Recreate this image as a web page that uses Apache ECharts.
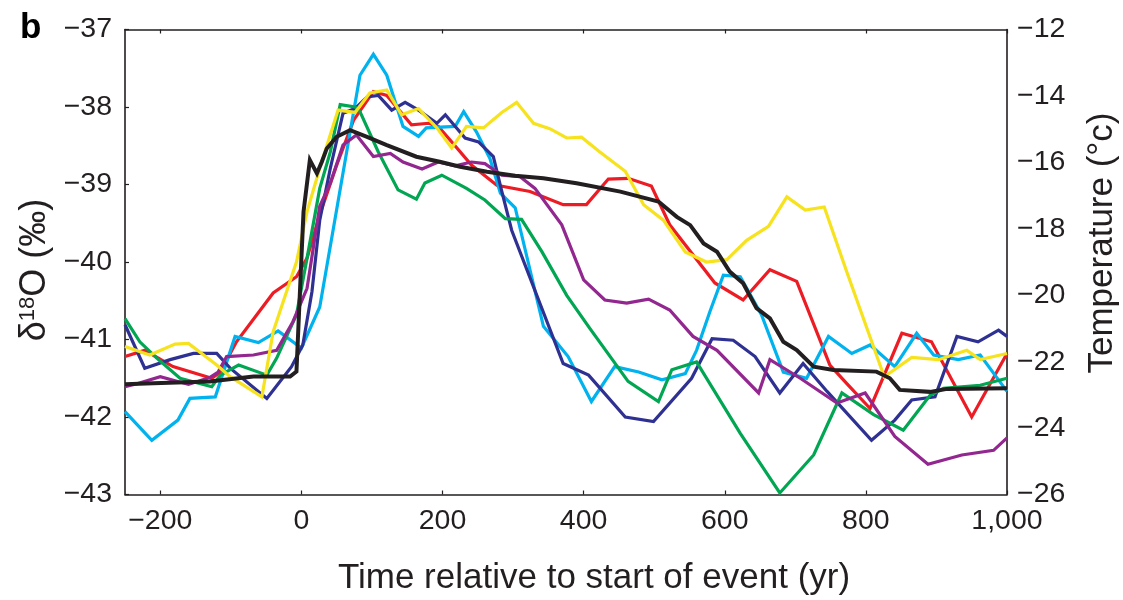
<!DOCTYPE html>
<html>
<head>
<meta charset="utf-8">
<script src="https://cdn.jsdelivr.net/npm/echarts@6/dist/echarts.min.js"></script>
<style>
  html, body { margin: 0; padding: 0; background: #ffffff; }
  #chart { width: 1123px; height: 600px; }
</style>
</head>
<body>
<div id="chart"></div>
<script>
// Tick positions on the time axis (years relative to the start of the event)
const yearTicks = [-200, 0, 200, 400, 600, 800, 1000];

// δ18O records (‰), [year, value]
const cyanRecord = [
  [-250,-41.93],[-212,-42.30],[-175,-42.04],[-158,-41.76],[-122,-41.74],[-94,-40.96],[-61,-41.04],
  [-33,-40.89],[0,-41.11],[26,-40.58],[83,-37.59],[102,-37.32],[121,-37.59],[144,-38.25],[166,-38.38],
  [177,-38.27],[218,-38.25],[230,-38.06],[248,-38.32],[267,-38.66],[282,-39.11],[303,-39.30],[343,-40.83],
  [378,-41.22],[411,-41.80],[444,-41.35],[478,-41.42],[511,-41.52],[544,-41.44],[560,-41.14],[579,-40.64],
  [598,-40.17],[622,-40.19],[652,-40.68],[683,-41.42],[716,-41.50],[747,-40.96],[780,-41.18],[806,-41.07],
  [841,-41.35],[872,-40.92],[896,-41.20],[931,-41.26],[962,-41.20],[1000,-41.67]
];
const blueRecord = [
  [-250,-40.81],[-222,-41.37],[-186,-41.26],[-153,-41.18],[-120,-41.18],[-101,-41.37],[-49,-41.76],
  [-14,-41.35],[2,-41.07],[15,-40.38],[26,-39.46],[41,-38.79],[59,-38.08],[76,-38.02],[93,-37.87],
  [109,-37.85],[128,-38.04],[147,-37.94],[166,-38.04],[192,-38.21],[204,-38.10],[232,-38.40],[251,-38.45],
  [272,-38.64],[284,-39.09],[298,-39.59],[371,-41.31],[407,-41.46],[459,-42.00],[499,-42.06],[553,-41.50],
  [582,-40.99],[612,-41.01],[643,-41.22],[678,-41.69],[711,-41.31],[745,-41.67],[808,-42.30],[841,-42.04],
  [865,-41.78],[898,-41.74],[929,-40.96],[959,-41.03],[988,-40.88],[1000,-40.96]
];
const greenRecord = [
  [-250,-40.73],[-229,-41.03],[-205,-41.24],[-172,-41.50],[-127,-41.61],[-115,-41.46],[-89,-41.33],
  [-49,-41.46],[-35,-41.24],[-7,-40.68],[8,-39.95],[26,-39.05],[41,-38.58],[55,-37.97],[76,-38.00],
  [83,-38.06],[109,-38.58],[137,-39.07],[163,-39.19],[175,-38.98],[199,-38.88],[234,-39.05],[260,-39.20],
  [289,-39.44],[312,-39.45],[341,-39.87],[376,-40.43],[409,-40.86],[463,-41.54],[506,-41.80],[525,-41.39],
  [560,-41.29],[622,-42.21],[678,-42.98],[726,-42.49],[766,-41.69],[811,-41.97],[853,-42.17],[891,-41.72],
  [910,-41.63],[962,-41.59],[1000,-41.50]
];
const redRecord = [
  [-250,-41.22],[-222,-41.14],[-182,-41.35],[-127,-41.50],[-115,-41.42],[-92,-41.03],[-40,-40.40],
  [-7,-40.19],[8,-39.95],[26,-39.39],[50,-38.75],[74,-38.17],[102,-37.80],[121,-37.85],[156,-38.23],
  [180,-38.21],[194,-38.25],[215,-38.47],[241,-38.75],[277,-39.01],[324,-39.09],[371,-39.26],[404,-39.26],
  [435,-38.93],[463,-38.92],[496,-39.02],[522,-39.52],[586,-40.27],[626,-40.49],[664,-40.10],[702,-40.25],
  [749,-41.33],[773,-41.57],[806,-41.89],[851,-40.92],[893,-41.03],[950,-42.00],[1000,-41.18]
];
const yellowRecord = [
  [-250,-41.09],[-215,-41.20],[-179,-41.06],[-160,-41.05],[-120,-41.33],[-101,-41.48],[-56,-41.74],
  [-40,-40.90],[-7,-40.00],[8,-39.35],[26,-38.79],[52,-38.04],[76,-38.07],[97,-37.82],[121,-37.78],
  [142,-38.10],[166,-38.02],[192,-38.27],[213,-38.53],[234,-38.25],[258,-38.27],[284,-38.07],[305,-37.94],
  [329,-38.21],[352,-38.28],[376,-38.40],[397,-38.39],[423,-38.58],[459,-38.83],[485,-39.26],[513,-39.46],
  [544,-39.87],[574,-40.00],[603,-39.97],[631,-39.72],[662,-39.54],[688,-39.16],[714,-39.33],[741,-39.29],
  [773,-40.13],[826,-41.48],[865,-41.23],[903,-41.26],[943,-41.14],[962,-41.26],[1000,-41.18]
];
const purpleRecord = [
  [-250,-41.61],[-233,-41.57],[-200,-41.48],[-160,-41.58],[-130,-41.49],[-118,-41.42],[-106,-41.22],
  [-68,-41.20],[-35,-41.14],[-12,-40.77],[8,-40.34],[26,-39.28],[41,-38.98],[59,-38.49],[78,-38.36],
  [102,-38.64],[126,-38.60],[144,-38.71],[171,-38.80],[194,-38.71],[218,-38.76],[241,-38.71],[260,-38.73],
  [284,-38.88],[310,-38.90],[331,-39.05],[369,-39.52],[400,-40.23],[430,-40.49],[461,-40.53],[492,-40.48],
  [522,-40.62],[555,-40.96],[589,-41.14],[648,-41.69],[664,-41.26],[707,-41.50],[759,-41.82],[799,-41.69],
  [841,-42.25],[888,-42.61],[936,-42.49],[981,-42.43],[1000,-42.27]
];

// Temperature reconstruction (°C), [year, value], plotted on the right axis
const temperatureRecord = [
  [-250,-22.68],[-210,-22.65],[-130,-22.60],[-68,-22.45],[-16,-22.45],[-7,-22.30],[0,-18.89],[3,-17.49],
  [12,-15.93],[22,-16.33],[29,-15.98],[36,-15.58],[50,-15.23],[69,-15.03],[93,-15.23],[121,-15.48],
  [163,-15.83],[196,-15.98],[225,-16.13],[263,-16.28],[303,-16.40],[343,-16.48],[390,-16.63],[452,-16.88],
  [506,-17.18],[532,-17.64],[551,-17.89],[570,-18.44],[589,-18.69],[607,-19.29],[626,-19.64],[645,-20.39],
  [664,-20.70],[683,-21.40],[702,-21.65],[726,-22.15],[754,-22.25],[815,-22.30],[834,-22.50],[848,-22.85],
  [891,-22.91],[915,-22.82],[1000,-22.80]
];

const INK = '#231f20';
const FONT = '"Liberation Sans", Arial, Helvetica, sans-serif';
const TICK_FONT = 28.5;
const minusSign = v => String(v).replace('-', '\u2212');

function record(name, data, color, width, yAxisIndex) {
  return {
    name, type: 'line', data, yAxisIndex: yAxisIndex || 0,
    showSymbol: false, symbol: 'none', silent: true,
    lineStyle: { color, width, join: 'miter' },
    emphasis: { disabled: true }
  };
}

const chart = echarts.init(document.getElementById('chart'), null, { renderer: 'canvas' });

chart.setOption({
  animation: false,
  backgroundColor: '#ffffff',
  textStyle: { fontFamily: FONT, color: INK },
  title: {
    text: 'b', left: 15, top: 6,
    textStyle: { fontFamily: FONT, fontWeight: 'bold', fontSize: 35, color: '#000' }
  },
  grid: {
    left: 125, right: 116, top: 29.5, bottom: 105.5,
    containLabel: false, outerBoundsMode: 'none'
  },
  xAxis: [
    {
      type: 'value', min: -250, max: 1000, position: 'bottom',
      axisLine: { show: true, onZero: false, lineStyle: { color: INK, width: 1.6 } },
      axisTick: { show: true, inside: true, length: 4, customValues: yearTicks, lineStyle: { color: INK, width: 1.2 } },
      axisLabel: {
        customValues: yearTicks, margin: 12, fontSize: TICK_FONT, fontFamily: FONT, color: INK,
        formatter: v => (v === 1000 ? '1,000' : minusSign(v))
      },
      splitLine: { show: false },
      name: 'Time relative to start of event (yr)',
      nameLocation: 'middle', nameGap: 66,
      nameTextStyle: { fontSize: 35, fontFamily: FONT, color: INK, padding: [0, 0, 0, 56] }
    },
    {
      type: 'value', min: -250, max: 1000, position: 'top',
      axisLine: { show: true, onZero: false, lineStyle: { color: INK, width: 1.6 } },
      axisTick: { show: true, inside: true, length: 4, customValues: yearTicks, lineStyle: { color: INK, width: 1.2 } },
      axisLabel: { show: false },
      splitLine: { show: false }
    }
  ],
  yAxis: [
    {
      type: 'value', min: -43, max: -37, interval: 1, position: 'left',
      axisLine: { show: true, onZero: false, lineStyle: { color: INK, width: 1.6 } },
      axisTick: { show: true, inside: true, length: 4, lineStyle: { color: INK, width: 1.2 } },
      axisLabel: {
        margin: 13, fontSize: TICK_FONT, fontFamily: FONT, color: INK,
        padding: [0, 0, 6, 0], formatter: v => minusSign(v)
      },
      splitLine: { show: false },
      name: '{d|\u03b4}{s|18}{d|O (\u2030)}',
      nameLocation: 'middle', nameGap: 72, nameRotate: 90,
      nameTextStyle: {
        fontFamily: FONT, color: INK, fontSize: 36, padding: [0, 16, 0, 0],
        rich: {
          d: { fontSize: 36, fontFamily: FONT, color: INK },
          s: { fontSize: 22, fontFamily: FONT, color: INK, verticalAlign: 'top' }
        }
      }
    },
    {
      type: 'value', min: -26, max: -12, interval: 2, position: 'right',
      axisLine: { show: true, onZero: false, lineStyle: { color: INK, width: 1.6 } },
      axisTick: { show: false },
      axisLabel: { margin: 10, fontSize: TICK_FONT, fontFamily: FONT, color: INK, formatter: v => minusSign(v) },
      splitLine: { show: false },
      name: 'Temperature (\u00b0c)',
      nameLocation: 'middle', nameGap: 78, nameRotate: 90,
      nameTextStyle: { fontSize: 35, fontFamily: FONT, color: INK, padding: [0, 0, 0, 38] }
    }
  ],
  series: [
    record('red', redRecord, '#ed1c24', 3.2),
    record('cyan', cyanRecord, '#00b2ee', 3.2),
    record('blue', blueRecord, '#2e3192', 3.2),
    record('green', greenRecord, '#00a651', 3.2),
    record('purple', purpleRecord, '#92278f', 3.2),
    record('yellow', yellowRecord, '#f7e21e', 3.2),
    record('temperature', temperatureRecord, INK, 4, 1)
  ]
});
</script>
</body>
</html>
